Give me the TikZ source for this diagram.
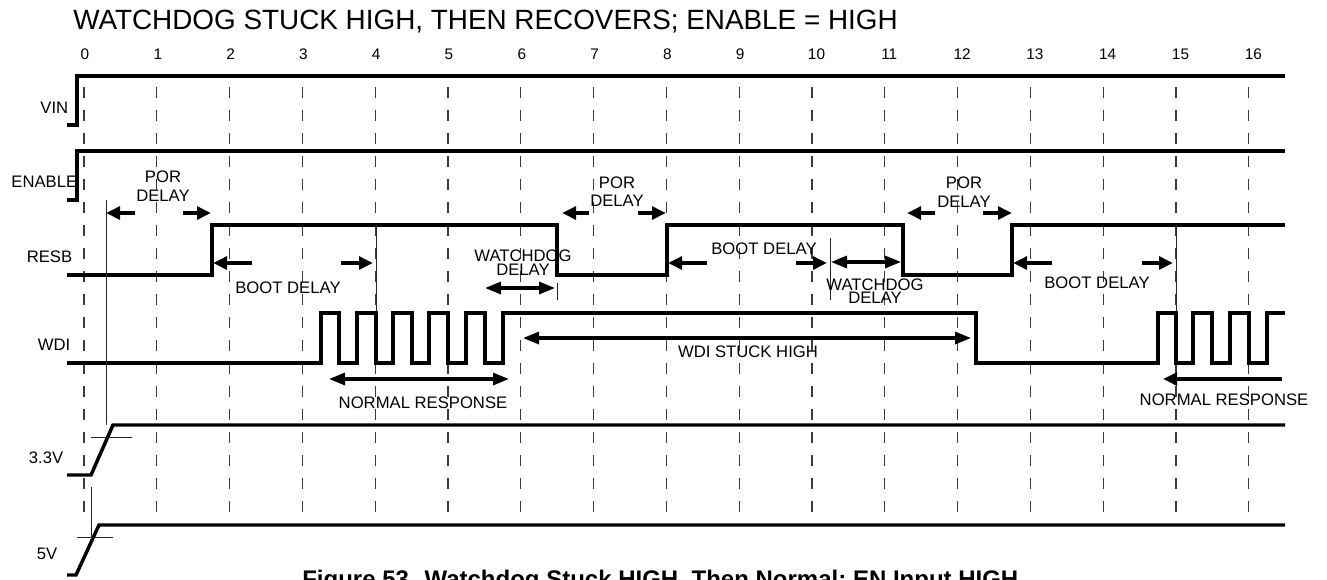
\documentclass[tikz,border=0pt]{standalone}
\usepackage{fontspec}
\setmainfont{Liberation Sans}
\usepackage{xcolor}
\usepackage{tikz}
\usetikzlibrary{arrows.meta}
\definecolor{wavegrid}{RGB}{60,60,60}
\definecolor{waveink}{RGB}{0,0,0}
\tikzstyle{signal} = [line width=2.6pt, line join=miter, draw=waveink]
\tikzstyle{gridline} = [line width=0.9pt, draw=wavegrid,
dash pattern=on 8.25pt off 9pt]
\tikzstyle{markline} = [line width=0.7pt, draw=waveink!85]
\tikzstyle{delayarrow} = [-{Triangle[length=10.5pt, width=9.5pt]},
line width=2.8pt, draw=waveink]
\tikzstyle{spanarrow} = [{Triangle[length=12pt, width=9pt]}-{Triangle[length=12pt, width=9pt]},
line width=2.4pt, draw=waveink]
\tikzstyle{siglabel} = [anchor=east, inner sep=0pt,
font=\fontsize{12.5}{15}\selectfont]
\tikzstyle{notetext} = [inner sep=0pt, align=center,
font=\fontsize{12.5}{15}\selectfont]
\tikzstyle{ticknum} = [inner sep=0pt, font=\fontsize{11.5}{13}\selectfont]

\begin{document}
\begin{tikzpicture}[x=0.75pt, y=-0.75pt]
    \useasboundingbox (0,0) rectangle (1327,579);

    % title and time scale
    \node (title) [anchor=base west, inner sep=0pt,
        font=\fontsize{20.9}{24}\selectfont] at (73,29)
        {WATCHDOG STUCK HIGH, THEN RECOVERS; ENABLE = HIGH};
    \foreach \t in {0,...,16} {
        \node (tick\t) [ticknum] at ({84+72.8*\t+ifthenelse(\t>9,4.5,1)},54.5) {\t};
        \draw[gridline] ({84+72.8*\t},87) -- ({84+72.8*\t},512);
    }

    % signal names
    \node (vin)  [siglabel] at (68.5,107.5) {VIN};
    \node (en)   [siglabel] at (77.5,182)   {ENABLE};
    \node (resb) [siglabel] at (72.5,257)   {RESB};
    \node (wdi)  [siglabel] at (70.5,345)   {WDI};
    \node (v33)  [siglabel] at (63.5,458)   {3.3V};
    \node (v5)   [siglabel] at (57.5,553.5) {5V};

    % waveforms
    \draw[signal] (67,125) -- (77,125) -- (77,76) -- (1285,76);
    \draw[signal] (67,200) -- (77,200) -- (77,151) -- (1285,151);
    \draw[signal] (67,275) -| (212,225) -| (557,275) -| (667,225)
        -| (903,275) -| (1012,225) -- (1285,225);
    \draw[signal] (67,363) -| (321,313) -| (339,363) -| (357,313)
        -| (376,363) -| (393,313) -| (412,363) -| (429,313) -| (448,363)
        -| (466,313) -| (485,363) -| (503,313) -| (976,363) -| (1158,313)
        -| (1176,363) -| (1193,313) -| (1212,363) -| (1230,313)
        -| (1249,363) -| (1267,313) -- (1285,313);
    \draw[signal] (67,475) -- (91,475) -- (113,425) -- (1285,425);
    \draw[signal] (67,575) -- (76,575) -- (99,525) -- (1285,525);

    % thresholds and reference lines
    \draw[markline] (91,437) -- (132,437);
    \draw[markline] (77,537) -- (113,537);
    \draw[markline] (106,200) -- (106,425);
    \draw[markline] (91,487) -- (91,540);
    \draw[markline] (376,225) -- (376,313);
    \draw[markline] (557,283) -- (557,300);
    \draw[markline] (830,238) -- (830,300);
    \draw[markline] (1176,225) -- (1176,313);

    % POR delays
    \node (por1) [notetext] at (163,186.5) {POR\\[-0.5pt]DELAY};
    \draw[delayarrow] (135,213) -- (106,213);
    \draw[delayarrow] (183,213) -- (211,213);
    \node (por2) [notetext] at (617,191.5) {POR\\[-1.5pt]DELAY};
    \draw[delayarrow] (589,213) -- (562,213);
    \draw[delayarrow] (638,213) -- (666,213);
    \node (por3) [notetext] at (964,192.5) {POR\\[-1pt]DELAY};
    \draw[delayarrow] (935,213) -- (907,213);
    \draw[delayarrow] (983,213) -- (1012,213);

    % boot delays
    \node (boot1) [notetext] at (288,288) {BOOT DELAY};
    \draw[delayarrow] (252,263) -- (213,263);
    \draw[delayarrow] (341,263) -- (373,263);
    \node (boot2) [notetext] at (764,249) {BOOT DELAY};
    \draw[delayarrow] (707,263) -- (668,263);
    \draw[delayarrow] (796,263) -- (827,263);
    \node (boot3) [notetext] at (1097,283) {BOOT DELAY};
    \draw[delayarrow] (1052,263) -- (1013,263);
    \draw[delayarrow] (1142,263) -- (1173,263);

    % watchdog delays
    \node (wd1) [notetext] at (523,263) {WATCHDOG\\[-4.5pt]DELAY};
    \draw[spanarrow] (485,288) -- (555,288);
    \node (wd2) [notetext] at (875,291) {WATCHDOG\\[-5pt]DELAY};
    \draw[spanarrow] (831,262) -- (901,262);

    % WDI responses
    \draw[spanarrow] (329,379) -- (509,379);
    \node (resp1) [notetext] at (423,403) {NORMAL RESPONSE};
    \draw[spanarrow] (523,338) -- (971,338);
    \node (stuck) [notetext] at (748,352) {WDI STUCK HIGH};
    \draw[delayarrow] (1282,379) -- (1163,379);
    \node (resp2) [notetext] at (1224,400) {NORMAL RESPONSE};

    % caption, cut by the page edge
    \node (caption) [anchor=base west, inner sep=0pt,
        font=\fontsize{18}{21}\selectfont\bfseries] at (302,587)
        {Figure 53. Watchdog Stuck HIGH, Then Normal; EN Input HIGH};
\end{tikzpicture}
\end{document}
